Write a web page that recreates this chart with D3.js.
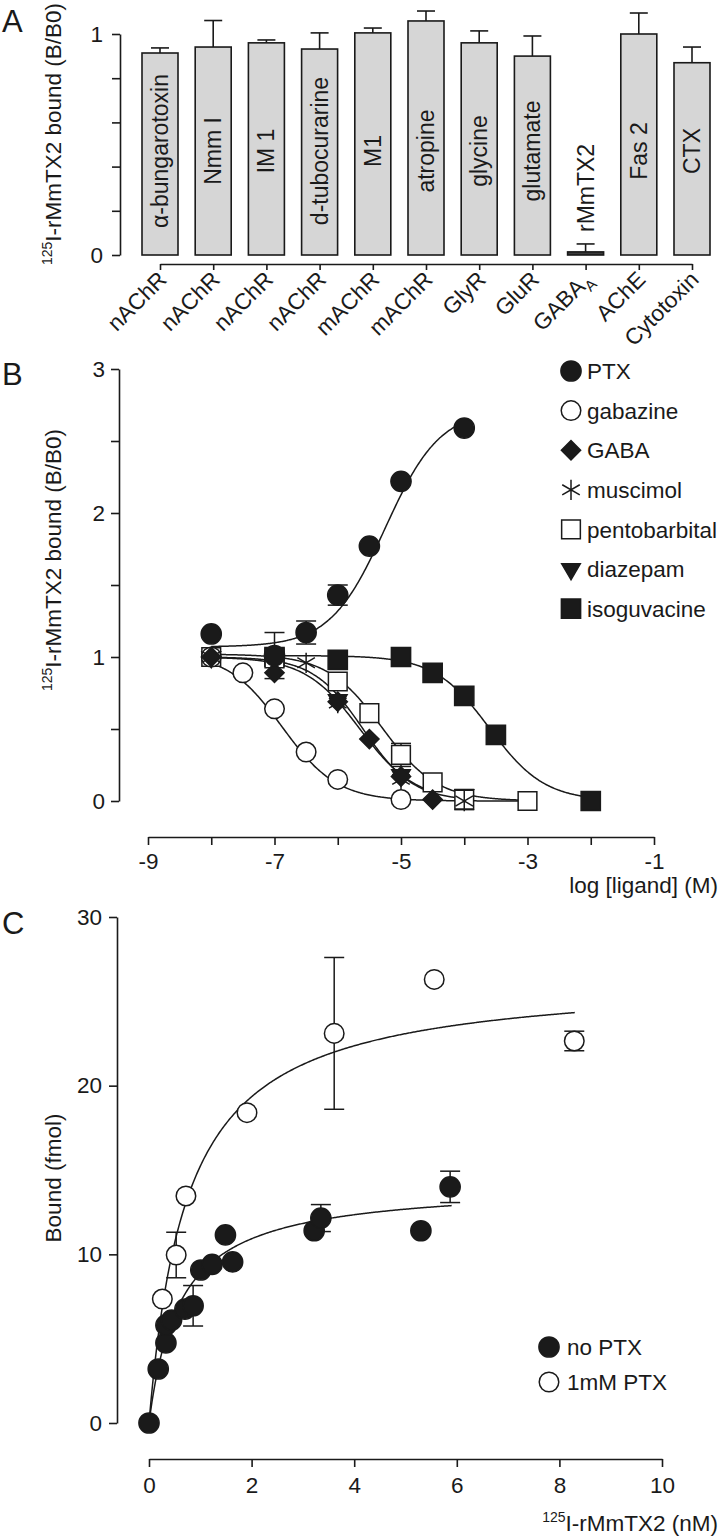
<!DOCTYPE html>
<html>
<head>
<meta charset="utf-8">
<script src="https://cdn.jsdelivr.net/npm/d3@7"></script>
<style>
  body { margin: 0; background: #fff; }
  svg { display: block; }
  text { font-family: "Liberation Sans", Arial, sans-serif; fill: #1a1a1a; }
</style>
</head>
<body>
<svg id="chart" width="721" height="1540"></svg>
<script>
// ---- Panel A: bars ----
const barTargets = ["nAChR", "nAChR", "nAChR", "nAChR", "mAChR", "mAChR", "GlyR", "GluR", "GABA_A", "AChE", "Cytotoxin"]
const barLigands = ["α-bungarotoxin", "Nmm I", "IM 1", "d-tubocurarine", "M1", "atropine", "glycine", "glutamate", "rMmTX2", "Fas 2", "CTX"]
const barValues = [0.914, 0.941, 0.96, 0.932, 1.005, 1.059, 0.96, 0.90, 0.014, 1.0, 0.87]
const barErrors = [0.023, 0.12, 0.013, 0.073, 0.022, 0.045, 0.054, 0.091, 0.036, 0.095, 0.071]
const barTicksA = [0, 0.2, 0.4, 0.6, 0.8, 1]

// ---- Panel B: competition (log M) ----
const ptxLog = [-8, -7, -6.5, -6, -5.5, -5, -4]
const ptxBound = [1.16, 1.01, 1.17, 1.43, 1.77, 2.22, 2.59]
const ptxErr = [0, 0.16, 0.08, 0.07, 0, 0, 0]
const gabazineLog = [-8, -7.5, -7, -6.5, -6, -5]
const gabazineBound = [1.0, 0.89, 0.64, 0.34, 0.15, 0.01]
const gabaLog = [-8, -7, -6, -5.5, -5, -4.5]
const gabaBound = [1.0, 0.89, 0.69, 0.43, 0.17, 0.01]
const muscimolLog = [-8, -6.5, -6, -5, -4]
const muscimolBound = [1.0, 0.96, 0.68, 0.15, 0.0]
const pentoLog = [-8, -7, -6, -5.5, -5, -4.5, -4, -3]
const pentoBound = [1.0, 0.99, 0.83, 0.61, 0.32, 0.13, 0.01, 0.0]
const pentoErr = [0, 0, 0, 0, 0.08, 0, 0.07, 0]
const diazepamLog = [-8, -6, -5, -4]
const diazepamBound = [1.0, 0.70, 0.18, 0.04]
const isoLog = [-7, -6, -5, -4.5, -4, -3.5, -2]
const isoBound = [1.0, 0.98, 1.0, 0.89, 0.73, 0.46, 0.0]
const isoErr = [0, 0, 0.05, 0, 0, 0, 0]

// fitted sigmoid parameters: PTX, gabazine, GABA, muscimol, pentobarbital, isoguvacine
const fitNames = ["PTX", "gabazine", "GABA", "muscimol", "pentobarbital", "isoguvacine"]
const fitBottom = [1.07, 0, 0, 0, 0, 0]
const fitTop = [2.72, 1.03, 1.0, 1.0, 1.02, 1.01]
const fitLogEC50 = [-5.25, -6.88, -5.65, -5.6, -5.3, -3.6]
const fitHill = [-1, 1, 1, 1.1, 1, 1]
const fitFrom = [-8, -8, -8, -8, -8, -7]
const fitTo = [-4, -3, -4.5, -4, -3, -2]
const xTicksB = [-9, -8, -7, -6, -5, -4, -3, -2, -1]
const yTicksB = [0, 0.5, 1, 1.5, 2, 2.5, 3]

// ---- Panel C: saturation ----
const noPtxConc = [0, 0.18, 0.33, 0.33, 0.44, 0.70, 0.86, 1.01, 1.23, 1.49, 1.63, 3.22, 3.35, 5.3, 5.87]
const noPtxBound = [0, 3.2, 4.75, 5.8, 6.1, 6.75, 6.95, 9.07, 9.4, 11.15, 9.55, 11.4, 12.15, 11.4, 14.0]
const noPtxErr = [0, 0, 0, 0, 0, 0, 1.2, 0, 0, 0, 0, 0, 0.8, 0, 0.93]
const ptx1Conc = [0.26, 0.53, 0.72, 1.91, 3.61, 5.56, 8.29]
const ptx1Bound = [7.35, 9.96, 13.46, 18.4, 23.1, 26.3, 22.65]
const ptx1Err = [0, 1.35, 0, 0, 4.5, 0, 0.58]
const satBmax = [14.2, 26.5]
const satKd = [0.6, 0.74]
const satTo = [5.9, 8.3]

const ink = "#1a1a1a"
const fs = "22.5px"
const svg = d3.select("#chart")
svg.append("rect").attr("width", 721).attr("height", 1540).attr("fill", "#fff")

function styleAxis(g) {
  g.selectAll("path, line").attr("stroke", ink).attr("stroke-width", 1.6)
  g.selectAll("text").style("font-size", fs).attr("fill", ink)
}

function panelLetter(txt, y) {
  svg.append("text").attr("x", 2).attr("y", y).style("font-size", "31px").text(txt)
}

// superscripted "125" title helper
function isoTitle(g, main) {
  g.append("tspan").style("font-size", "14px").attr("dy", "-9").text("125")
  g.append("tspan").style("font-size", fs).attr("dy", "9").text(main)
}

// ================= Panel A =================
panelLetter("A", 32)
const xA = d3.scalePoint().domain(d3.range(barValues.length)).range([160, 692])
const yA = d3.scaleLinear().domain([0, 1]).range([255, 34])
const barW = 36

svg.append("g")
  .attr("transform", "translate(120,0)")
  .call(d3.axisLeft(yA).tickValues(barTicksA).tickSize(8).tickSizeOuter(0).tickPadding(9)
    .tickFormat(d => (d === 0 || d === 1) ? d : ""))
  .call(styleAxis)

svg.append("g")
  .attr("transform", "translate(0,264)")
  .call(d3.axisBottom(xA).tickSize(6).tickSizeOuter(0).tickFormat(""))
  .call(styleAxis)

const bars = svg.append("g")
bars.selectAll("g")
  .data(barValues)
  .enter()
  .append("g")
  .each(function (d, i) {
    const g = d3.select(this)
    const cx = xA(i)
    g.append("line").attr("x1", cx).attr("x2", cx).attr("y1", yA(d)).attr("y2", yA(d + barErrors[i]))
      .attr("stroke", ink).attr("stroke-width", 1.6)
    g.append("line").attr("x1", cx - 9).attr("x2", cx + 9).attr("y1", yA(d + barErrors[i])).attr("y2", yA(d + barErrors[i]))
      .attr("stroke", ink).attr("stroke-width", 1.6)
    g.append("rect")
      .attr("x", cx - barW / 2).attr("width", barW)
      .attr("y", yA(d)).attr("height", yA(0) - yA(d))
      .attr("fill", barLigands[i] === "rMmTX2" ? "#3a3a3a" : "#d6d6d6")
      .attr("stroke", ink).attr("stroke-width", 1.6)
  })

// in-bar ligand names
barLigands.forEach((name, i) => {
  const small = barValues[i] < 0.2
  svg.append("text")
    .attr("transform", `translate(${xA(i)},${small ? 232 : 151}) rotate(-90)`)
    .attr("text-anchor", small ? "start" : "middle")
    .attr("dy", "0.35em")
    .style("font-size", "23px")
    .text(name)
})

// target labels (rotated)
barTargets.forEach((t, i) => {
  const txt = svg.append("text")
    .attr("transform", `translate(${xA(i) + 8},281) rotate(-45)`)
    .attr("text-anchor", "end")
    .style("font-size", fs)
  if (t === "GABA_A") {
    txt.append("tspan").text("GABA")
    txt.append("tspan").attr("dy", 6).style("font-size", "15px").text("A")
  } else {
    txt.text(t)
  }
})

const titleA = svg.append("text")
  .attr("transform", "translate(61,134) rotate(-90)")
  .attr("text-anchor", "middle")
isoTitle(titleA, "I-rMmTX2 bound (B/B0)")

// ================= Panel B =================
panelLetter("B", 385)
const xB = d3.scaleLinear().domain([-9, -1]).range([148, 654])
const yB = d3.scaleLinear().domain([0, 3]).range([801, 369])

svg.append("g")
  .attr("transform", "translate(119,0)")
  .call(d3.axisLeft(yB).tickValues(yTicksB).tickSize(8).tickSizeOuter(0).tickPadding(6)
    .tickFormat(d => Number.isInteger(d) ? d : ""))
  .call(styleAxis)

svg.append("g")
  .attr("transform", "translate(0,837)")
  .call(d3.axisBottom(xB).tickValues(xTicksB).tickSize(8).tickSizeOuter(0).tickPadding(8)
    .tickFormat(d => (d % 2 !== 0) ? d : ""))
  .call(styleAxis)

svg.append("text").attr("x", 718).attr("y", 893).attr("text-anchor", "end")
  .style("font-size", fs).text("log [ligand] (M)")

const titleB = svg.append("text")
  .attr("transform", "translate(61,560) rotate(-90)")
  .attr("text-anchor", "middle")
isoTitle(titleB, "I-rMmTX2 bound (B/B0)")

// fitted curves
const lineB = d3.line().x(d => xB(d[0])).y(d => yB(d[1])).curve(d3.curveBasis)
fitNames.forEach((n, i) => {
  const pts = d3.range(fitFrom[i], fitTo[i] + 0.001, 0.02).map(x =>
    [x, fitBottom[i] + (fitTop[i] - fitBottom[i]) / (1 + Math.pow(10, (x - fitLogEC50[i]) * fitHill[i]))])
  svg.append("path").attr("d", lineB(pts)).attr("fill", "none").attr("stroke", ink).attr("stroke-width", 1.5)
})

// marker factory
const markerDefs = {
  circleFilled: { d: d3.symbol(d3.symbolCircle, 320)(), fill: ink, stroke: ink, rot: 0 },
  circleOpen: { d: d3.symbol(d3.symbolCircle, 300)(), fill: "#fff", stroke: ink, rot: 0 },
  diamond: { d: d3.symbol(d3.symbolSquare, 185)(), fill: ink, stroke: ink, rot: 45 },
  asterisk: { d: d3.symbol(d3.symbolAsterisk, 290)(), fill: "none", stroke: ink, rot: 0 },
  squareOpen: { d: d3.symbol(d3.symbolSquare, 350)(), fill: "#fff", stroke: ink, rot: 0 },
  triangleDown: { d: d3.symbol(d3.symbolTriangle, 150)(), fill: ink, stroke: ink, rot: 180 },
  squareFilled: { d: d3.symbol(d3.symbolSquare, 370)(), fill: ink, stroke: ink, rot: 0 }
}

function errBars(g, xs, ys, es, sx, sy) {
  xs.forEach((x, i) => {
    if (!es[i]) return
    const cx = sx(x)
    g.append("line").attr("x1", cx).attr("x2", cx).attr("y1", sy(ys[i] - es[i])).attr("y2", sy(ys[i] + es[i]))
      .attr("stroke", ink).attr("stroke-width", 1.5)
    ;[ys[i] - es[i], ys[i] + es[i]].forEach(v => {
      g.append("line").attr("x1", cx - 10).attr("x2", cx + 10).attr("y1", sy(v)).attr("y2", sy(v))
        .attr("stroke", ink).attr("stroke-width", 1.5)
    })
  })
}

function markers(g, type, xs, ys, sx, sy) {
  const m = markerDefs[type]
  g.selectAll(null)
    .data(xs.map((x, i) => [x, ys[i]]))
    .enter()
    .append("path")
    .attr("d", m.d)
    .attr("transform", d => `translate(${sx(d[0])},${sy(d[1])}) rotate(${m.rot})`)
    .attr("fill", m.fill)
    .attr("stroke", m.stroke)
    .attr("stroke-width", 1.5)
}

const gB = svg.append("g")
errBars(gB, ptxLog, ptxBound, ptxErr, xB, yB)
errBars(gB, pentoLog, pentoBound, pentoErr, xB, yB)
errBars(gB, isoLog, isoBound, isoErr, xB, yB)
markers(gB, "squareFilled", isoLog, isoBound, xB, yB)
markers(gB, "triangleDown", diazepamLog, diazepamBound, xB, yB)
markers(gB, "squareOpen", pentoLog, pentoBound, xB, yB)
markers(gB, "circleOpen", gabazineLog, gabazineBound, xB, yB)
markers(gB, "asterisk", muscimolLog, muscimolBound, xB, yB)
markers(gB, "diamond", gabaLog, gabaBound, xB, yB)
markers(gB, "circleFilled", ptxLog, ptxBound, xB, yB)

// legend B
const legendB = [["circleFilled", "PTX"], ["circleOpen", "gabazine"], ["diamond", "GABA"], ["asterisk", "muscimol"],
  ["squareOpen", "pentobarbital"], ["triangleDown", "diazepam"], ["squareFilled", "isoguvacine"]]
legendB.forEach((l, i) => {
  const y = 371 + i * 39.6
  const m = markerDefs[l[0]]
  svg.append("path").attr("d", m.d).attr("transform", `translate(571,${y}) rotate(${m.rot})`)
    .attr("fill", m.fill).attr("stroke", m.stroke).attr("stroke-width", 1.5)
  svg.append("text").attr("x", 587).attr("y", y).attr("dy", "0.36em").style("font-size", fs).text(l[1])
})

// ================= Panel C =================
panelLetter("C", 934)
const xC = d3.scaleLinear().domain([0, 10]).range([149, 662])
const yC = d3.scaleLinear().domain([0, 30]).range([1423, 917])

svg.append("g")
  .attr("transform", "translate(117,0)")
  .call(d3.axisLeft(yC).tickValues([0, 10, 20, 30]).tickSize(8).tickSizeOuter(0).tickPadding(7))
  .call(styleAxis)

svg.append("g")
  .attr("transform", "translate(0,1459)")
  .call(d3.axisBottom(xC).tickValues([0, 2, 4, 6, 8, 10]).tickSize(8).tickSizeOuter(0).tickPadding(10))
  .call(styleAxis)

const titleCx = svg.append("text").attr("x", 718).attr("y", 1531).attr("text-anchor", "end")
isoTitle(titleCx, "I-rMmTX2 (nM)")

svg.append("text")
  .attr("transform", "translate(61,1178) rotate(-90)")
  .attr("text-anchor", "middle")
  .style("font-size", fs)
  .text("Bound (fmol)")

const lineC = d3.line().x(d => xC(d[0])).y(d => yC(d[1]))
satBmax.forEach((b, i) => {
  const pts = d3.range(0, satTo[i] + 0.001, 0.02).map(x => [x, b * x / (satKd[i] + x)])
  svg.append("path").attr("d", lineC(pts)).attr("fill", "none").attr("stroke", ink).attr("stroke-width", 1.5)
})

const gC = svg.append("g")
errBars(gC, ptx1Conc, ptx1Bound, ptx1Err, xC, yC)
errBars(gC, noPtxConc, noPtxBound, noPtxErr, xC, yC)
markers(gC, "circleOpen", ptx1Conc, ptx1Bound, xC, yC)
markers(gC, "circleFilled", noPtxConc, noPtxBound, xC, yC)

const legendC = [["circleFilled", "no PTX"], ["circleOpen", "1mM PTX"]]
legendC.forEach((l, i) => {
  const y = 1347 + i * 35
  const m = markerDefs[l[0]]
  svg.append("path").attr("d", m.d).attr("transform", `translate(549,${y})`)
    .attr("fill", m.fill).attr("stroke", m.stroke).attr("stroke-width", 1.5)
  svg.append("text").attr("x", 567).attr("y", y).attr("dy", "0.36em").style("font-size", fs).text(l[1])
})
</script>
</body>
</html>
